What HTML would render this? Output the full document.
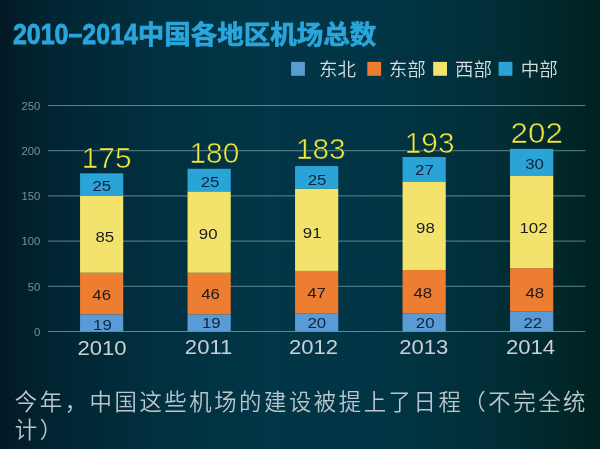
<!DOCTYPE html>
<html lang="zh"><head><meta charset="utf-8"><title>2010–2014中国各地区机场总数</title>
<style>
html,body{margin:0;padding:0;background:#03222e;}
body{width:600px;height:449px;overflow:hidden;position:relative;}
svg{display:block;position:absolute;left:0;top:0;}
text{font-family:"Liberation Sans","Noto Sans CJK SC",sans-serif;}
.t{font-weight:bold;fill:#2aa6dc;}
.lg{font-size:18.5px;fill:#d5dde0;font-weight:350;}
.ax{font-size:10.3px;fill:#7c8d97;text-anchor:end;}
.yr{font-size:19.9px;fill:#c9d1d5;text-anchor:middle;}
.v{font-size:15.3px;fill:#1c1c1c;text-anchor:middle;}
.vb{fill:#12233f;}
.tot{fill:#f5e83a;text-anchor:middle;paint-order:fill stroke;}
.cap{font-size:22.4px;fill:#b9c6cb;font-weight:350;letter-spacing:2.53px;}
</style></head><body>
<svg width="600" height="449" viewBox="0 0 600 449">
<defs>
<linearGradient id="bg" x1="0" y1="0" x2="1" y2="0">
<stop offset="0" stop-color="#011724"/>
<stop offset="0.035" stop-color="#021f2b"/>
<stop offset="0.09" stop-color="#012532"/>
<stop offset="0.26" stop-color="#01303f"/>
<stop offset="0.44" stop-color="#013646"/>
<stop offset="0.62" stop-color="#013545"/>
<stop offset="0.78" stop-color="#01303b"/>
<stop offset="0.90" stop-color="#012a30"/>
<stop offset="0.945" stop-color="#002626"/>
<stop offset="1" stop-color="#002120"/>
</linearGradient>
</defs>
<rect width="600" height="449" fill="url(#bg)"/>
<text class="t" font-size="29.3" stroke="#2aa6dc" stroke-width="0.8" transform="translate(12.9,44.4) scale(0.853,1)">2010–2014</text>
<text class="t" font-size="26.5" stroke="#2aa6dc" stroke-width="0.7" x="137.8" y="43.8">中国各地区机场总数</text>
<rect x="291.1" y="61.9" width="13.8" height="13.9" fill="#5b9bd5"/><text class="lg" x="319.0" y="75.6">东北</text>
<rect x="367.3" y="61.9" width="13.8" height="13.9" fill="#ed7d31"/><text class="lg" x="388.8" y="75.6">东部</text>
<rect x="433.2" y="61.9" width="13.8" height="13.9" fill="#f3e36c"/><text class="lg" x="455.0" y="75.6">西部</text>
<rect x="498.6" y="61.9" width="13.8" height="13.9" fill="#2aa3d6"/><text class="lg" x="520.8" y="75.6">中部</text>
<line x1="47.9" x2="585.4" y1="331.5" y2="331.5" stroke="#8fb9c2" stroke-width="1" opacity="0.64"/><text class="ax" transform="translate(40.3,335.7) scale(1.1,1)">0</text>
<line x1="47.9" x2="585.4" y1="286.3" y2="286.3" stroke="#8fb9c2" stroke-width="1" opacity="0.64"/><text class="ax" transform="translate(40.3,290.5) scale(1.1,1)">50</text>
<line x1="47.9" x2="585.4" y1="241.1" y2="241.1" stroke="#8fb9c2" stroke-width="1" opacity="0.64"/><text class="ax" transform="translate(40.3,245.3) scale(1.1,1)">100</text>
<line x1="47.9" x2="585.4" y1="195.89999999999998" y2="195.89999999999998" stroke="#8fb9c2" stroke-width="1" opacity="0.64"/><text class="ax" transform="translate(40.3,200.1) scale(1.1,1)">150</text>
<line x1="47.9" x2="585.4" y1="150.7" y2="150.7" stroke="#8fb9c2" stroke-width="1" opacity="0.64"/><text class="ax" transform="translate(40.3,154.9) scale(1.1,1)">200</text>
<line x1="47.9" x2="585.4" y1="105.5" y2="105.5" stroke="#8fb9c2" stroke-width="1" opacity="0.64"/><text class="ax" transform="translate(40.3,109.7) scale(1.1,1)">250</text>
<rect x="80.05" y="314.32" width="43.2" height="17.18" fill="#5b9bd5"/><text class="v vb" transform="translate(102.4,329.5) scale(1.1,1)">19</text>
<rect x="80.05" y="272.74" width="43.2" height="41.58" fill="#ed7d31"/><text class="v" transform="translate(101.7,299.5) scale(1.1,1)">46</text>
<rect x="80.05" y="195.90" width="43.2" height="76.84" fill="#f3e36c"/><text class="v" transform="translate(104.8,242.4) scale(1.1,1)">85</text>
<rect x="80.05" y="173.30" width="43.2" height="22.60" fill="#2aa3d6"/><text class="v vb" transform="translate(101.8,190.8) scale(1.1,1)">25</text>
<text class="tot" font-size="29.8" stroke="#012b39" stroke-width="0.6" paint-order="fill stroke" transform="translate(106.6,168.2) scale(1.0,1)">175</text>
<text class="yr" transform="translate(102.0,354.8) scale(1.11,1)">2010</text>
<rect x="187.55" y="314.32" width="43.2" height="17.18" fill="#5b9bd5"/><text class="v vb" transform="translate(211.3,327.5) scale(1.1,1)">19</text>
<rect x="187.55" y="272.74" width="43.2" height="41.58" fill="#ed7d31"/><text class="v" transform="translate(210.6,298.9) scale(1.1,1)">46</text>
<rect x="187.55" y="191.38" width="43.2" height="81.36" fill="#f3e36c"/><text class="v" transform="translate(208.2,238.8) scale(1.1,1)">90</text>
<rect x="187.55" y="168.78" width="43.2" height="22.60" fill="#2aa3d6"/><text class="v vb" transform="translate(210.0,186.8) scale(1.1,1)">25</text>
<text class="tot" font-size="29.8" stroke="#013343" stroke-width="0.6" paint-order="fill stroke" transform="translate(214.4,162.8) scale(1.0,1)">180</text>
<text class="yr" transform="translate(208.6,354.4) scale(1.11,1)">2011</text>
<rect x="295.05" y="313.42" width="43.2" height="18.08" fill="#5b9bd5"/><text class="v vb" transform="translate(316.8,327.9) scale(1.1,1)">20</text>
<rect x="295.05" y="270.93" width="43.2" height="42.49" fill="#ed7d31"/><text class="v" transform="translate(316.6,297.9) scale(1.1,1)">47</text>
<rect x="295.05" y="188.67" width="43.2" height="82.26" fill="#f3e36c"/><text class="v" transform="translate(312.2,238.4) scale(1.1,1)">91</text>
<rect x="295.05" y="166.07" width="43.2" height="22.60" fill="#2aa3d6"/><text class="v vb" transform="translate(317.0,184.8) scale(1.1,1)">25</text>
<text class="tot" font-size="29.8" stroke="#013646" stroke-width="0.6" paint-order="fill stroke" transform="translate(320.8,158.8) scale(1.0,1)">183</text>
<text class="yr" transform="translate(313.5,354.4) scale(1.11,1)">2012</text>
<rect x="402.55" y="313.42" width="43.2" height="18.08" fill="#5b9bd5"/><text class="v vb" transform="translate(425.2,327.9) scale(1.1,1)">20</text>
<rect x="402.55" y="270.03" width="43.2" height="43.39" fill="#ed7d31"/><text class="v" transform="translate(422.8,297.9) scale(1.1,1)">48</text>
<rect x="402.55" y="181.44" width="43.2" height="88.59" fill="#f3e36c"/><text class="v" transform="translate(425.4,233.4) scale(1.1,1)">98</text>
<rect x="402.55" y="157.03" width="43.2" height="24.41" fill="#2aa3d6"/><text class="v vb" transform="translate(424.4,174.8) scale(1.1,1)">27</text>
<text class="tot" font-size="29.8" stroke="#01323f" stroke-width="0.6" paint-order="fill stroke" transform="translate(429.6,153.2) scale(1.0,1)">193</text>
<text class="yr" transform="translate(423.7,354.4) scale(1.11,1)">2013</text>
<rect x="510.05" y="311.61" width="43.2" height="19.89" fill="#5b9bd5"/><text class="v vb" transform="translate(532.8,327.9) scale(1.1,1)">22</text>
<rect x="510.05" y="268.22" width="43.2" height="43.39" fill="#ed7d31"/><text class="v" transform="translate(534.8,297.9) scale(1.1,1)">48</text>
<rect x="510.05" y="176.01" width="43.2" height="92.21" fill="#f3e36c"/><text class="v" transform="translate(533.5,233.4) scale(1.1,1)">102</text>
<rect x="510.05" y="148.89" width="43.2" height="27.12" fill="#2aa3d6"/><text class="v vb" transform="translate(534.5,169.4) scale(1.1,1)">30</text>
<text class="tot" font-size="29.8" stroke="#012a31" stroke-width="0.6" paint-order="fill stroke" transform="translate(536.7,143.2) scale(1.05,1)">202</text>
<text class="yr" transform="translate(530.5,354.4) scale(1.11,1)">2014</text>
<text class="cap" x="14.8" y="410.2">今年，中国这些机场的建设被提上了日程（不完全统</text>
<text class="cap" x="14.8" y="437.7">计）</text>
</svg></body></html>
